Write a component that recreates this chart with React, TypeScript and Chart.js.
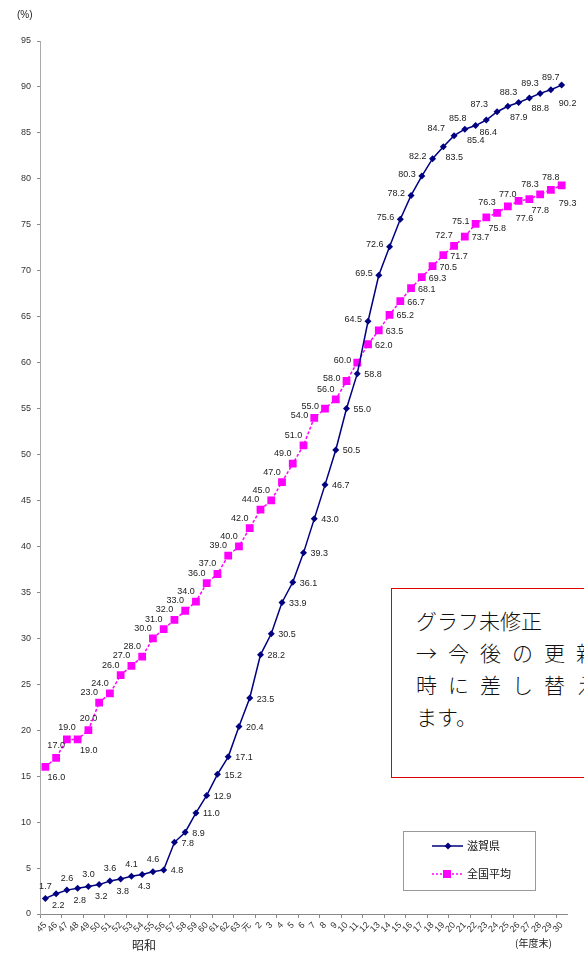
import React, { useEffect, useRef } from 'react';
import { Chart, registerables } from 'chart.js';

Chart.register(...registerables);

const categories = [
  '45', '46', '47', '48', '49', '50', '51', '52', '53', '54', '55', '56', '57', '58', '59', '60', '61', '62', '63',
  '元', '2', '3', '4', '5', '6', '7', '8', '9', '10', '11', '12', '13', '14', '15', '16', '17', '18', '19', '20',
  '21', '22', '23', '24', '25', '26', '27', '28', '29', '30',
];

const shigaValues = [
  1.7, 2.2, 2.6, 2.8, 3.0, 3.2, 3.6, 3.8, 4.1, 4.3, 4.6, 4.8, 7.8, 8.9, 11.0, 12.9, 15.2, 17.1, 20.4,
  23.5, 28.2, 30.5, 33.9, 36.1, 39.3, 43.0, 46.7, 50.5, 55.0, 58.8, 64.5, 69.5, 72.6, 75.6, 78.2, 80.3, 82.2, 83.5, 84.7,
  85.4, 85.8, 86.4, 87.3, 87.9, 88.3, 88.8, 89.3, 89.7, 90.2,
];

const nationalValues = [
  16.0, 17.0, 19.0, 19.0, 20.0, 23.0, 24.0, 26.0, 27.0, 28.0, 30.0, 31.0, 32.0, 33.0, 34.0, 36.0, 37.0, 39.0, 40.0,
  42.0, 44.0, 45.0, 47.0, 49.0, 51.0, 54.0, 55.0, 56.0, 58.0, 60.0, 62.0, 63.5, 65.2, 66.7, 68.1, 69.3, 70.5, 71.7, 72.7,
  73.7, 75.1, 75.8, 76.3, 77.0, 77.6, 77.8, 78.3, 78.8, 79.3,
];

const seriesNames = ['滋賀県', '全国平均'];

// label placement codes
const shigaLabelPos = [
  'a', 'b', 'a', 'b', 'a', 'b', 'a', 'b', 'a', 'b', 'a', 'r', 'r', 'r', 'r', 'r', 'r', 'r', 'r',
  'r', 'r', 'r', 'r', 'r', 'r', 'r', 'r', 'r', 'r', 'r', 'l', 'l', 'l', 'l', 'l', 'l', 'l', 'br', 'ul',
  'br', 'ul', 'b', 'ul', 'br', 'al', 'br', 'al', 'a', 'bb',
];

const nationalLabelPos = [
  'br', 'a', 'a', 'br', 'a', 'al', 'al', 'al', 'al', 'al', 'al', 'al', 'al', 'al', 'al', 'al', 'al', 'al', 'al',
  'al', 'al', 'al', 'al', 'al', 'al', 'l', 'l', 'al', 'l', 'l', 'r', 'r', 'r', 'r', 'r', 'r', 'r', 'r', 'al',
  'r', 'l', 'br', 'al', 'a', 'bb', 'br', 'al', 'a', 'bb',
];

const OFFSETS: Record<string, { dx: number; dy: number; align: CanvasTextAlign }> = {
  a: { dx: 0, dy: -12, align: 'center' },
  b: { dx: 2, dy: 12, align: 'center' },
  r: { dx: 7, dy: 1, align: 'left' },
  l: { dx: -6, dy: -2, align: 'right' },
  al: { dx: -10, dy: -10, align: 'center' },
  ul: { dx: -9, dy: -7, align: 'right' },
  br: { dx: 11, dy: 11, align: 'center' },
  bb: { dx: 6, dy: 18, align: 'center' },
};

const NAVY = '#000080';
const MAGENTA = '#FF00FF';
const LABEL_FONT = "9px 'Liberation Sans', 'DejaVu Sans', sans-serif";

const labelPlugin = {
  id: 'valueLabels',
  afterDatasetsDraw(chart: any) {
    const ctx = chart.ctx;
    const posSets = [shigaLabelPos, nationalLabelPos];
    ctx.save();
    ctx.font = LABEL_FONT;
    ctx.fillStyle = '#222';
    ctx.textBaseline = 'middle';
    chart.data.datasets.forEach((ds: any, i: number) => {
      const meta = chart.getDatasetMeta(i);
      meta.data.forEach((pt: any, j: number) => {
        const o = OFFSETS[posSets[i][j]] || OFFSETS.a;
        ctx.textAlign = o.align;
        ctx.fillText(Number(ds.data[j]).toFixed(1), pt.x + o.dx, pt.y + o.dy);
      });
    });
    ctx.restore();
  },
  afterDraw(chart: any) {
    const ctx = chart.ctx;
    ctx.save();
    // legend box
    ctx.fillStyle = '#fff';
    ctx.fillRect(403.5, 831.5, 132, 59);
    ctx.strokeStyle = '#999';
    ctx.lineWidth = 1;
    ctx.strokeRect(403.5, 831.5, 132, 59);
    // series 1
    ctx.strokeStyle = NAVY;
    ctx.lineWidth = 1.5;
    ctx.beginPath();
    ctx.moveTo(432, 846);
    ctx.lineTo(463, 846);
    ctx.stroke();
    ctx.fillStyle = NAVY;
    ctx.beginPath();
    ctx.moveTo(448, 842.5);
    ctx.lineTo(451.5, 846);
    ctx.lineTo(448, 849.5);
    ctx.lineTo(444.5, 846);
    ctx.closePath();
    ctx.fill();
    // series 2
    ctx.strokeStyle = MAGENTA;
    ctx.setLineDash([2, 2]);
    ctx.beginPath();
    ctx.moveTo(432, 874);
    ctx.lineTo(463, 874);
    ctx.stroke();
    ctx.setLineDash([]);
    ctx.fillStyle = MAGENTA;
    ctx.fillRect(443, 870, 8, 8);
    ctx.fillStyle = '#111';
    ctx.font = "11px 'Noto Sans CJK JP', sans-serif";
    ctx.textAlign = 'left';
    ctx.textBaseline = 'middle';
    ctx.fillText(seriesNames[0], 467, 846);
    ctx.fillText(seriesNames[1], 467, 874);
    ctx.restore();
  },
};

export default function App() {
  const canvasRef = useRef<HTMLCanvasElement | null>(null);

  useEffect(() => {
    if (!canvasRef.current) return;
    const chart = new Chart(canvasRef.current, {
      type: 'line',
      data: {
        labels: categories,
        datasets: [
          {
            label: seriesNames[0],
            data: shigaValues,
            borderColor: NAVY,
            backgroundColor: NAVY,
            borderWidth: 1.5,
            pointStyle: 'rectRot',
            pointRadius: 3.5,
            pointBorderWidth: 0,
            pointBackgroundColor: NAVY,
            tension: 0,
          },
          {
            label: seriesNames[1],
            data: nationalValues,
            borderColor: MAGENTA,
            backgroundColor: MAGENTA,
            borderWidth: 1.5,
            borderDash: [3, 2],
            pointStyle: 'rect',
            pointRadius: 5.5,
            pointBorderWidth: 0,
            pointBackgroundColor: MAGENTA,
            tension: 0,
          },
        ],
      },
      options: {
        responsive: false,
        animation: false,
        devicePixelRatio: 1,
        layout: { padding: { top: 41, right: 17, left: 0, bottom: 0 } },
        plugins: { legend: { display: false }, tooltip: { enabled: false }, title: { display: false } },
        scales: {
          x: {
            type: 'category',
            offset: true,
            afterFit: (s: any) => {
              s.height = 39;
            },
            border: { display: true, color: '#888', width: 1 },
            grid: {
              offset: true,
              drawOnChartArea: false,
              drawTicks: true,
              tickLength: 4,
              color: (c: any) => (c.index % 2 === 0 ? '#888' : 'rgba(0,0,0,0)'),
            },
            ticks: {
              autoSkip: false,
              minRotation: 45,
              maxRotation: 45,
              padding: 2,
              color: '#333',
              font: { size: 9, family: "'Liberation Sans', 'Noto Sans CJK JP', sans-serif" },
            },
          },
          y: {
            min: 0,
            max: 95,
            afterFit: (s: any) => {
              s.width = 40;
            },
            border: { display: true, color: '#aaa', width: 1 },
            grid: { drawOnChartArea: false, drawTicks: true, tickLength: 3, color: '#888' },
            ticks: {
              stepSize: 5,
              padding: 6,
              color: '#333',
              font: { size: 9, family: "'Liberation Sans', sans-serif" },
            },
          },
        },
      },
      plugins: [labelPlugin],
    });
    return () => chart.destroy();
  }, []);

  const noteLine: React.CSSProperties = { height: 32, lineHeight: '32px', whiteSpace: 'nowrap' };

  return (
    <div
      style={{
        position: 'fixed',
        left: 0,
        top: 0,
        width: 584,
        height: 953,
        overflow: 'hidden',
        background: '#fff',
      }}
    >
      <canvas ref={canvasRef} width={584} height={953} style={{ position: 'absolute', left: 0, top: 0 }} />
      <div
        style={{
          position: 'absolute',
          left: 17,
          top: 9,
          font: "10px 'Liberation Sans', sans-serif",
          color: '#222',
        }}
      >
        (%)
      </div>
      <div
        style={{
          position: 'absolute',
          left: 132,
          top: 938,
          font: "12px 'Noto Sans CJK JP', sans-serif",
          lineHeight: '14px',
          color: '#222',
        }}
      >
        昭和
      </div>
      <div
        style={{
          position: 'absolute',
          left: 515,
          top: 936,
          font: "10px 'Noto Sans CJK JP', sans-serif",
          lineHeight: '14px',
          color: '#222',
        }}
      >
        (年度末)
      </div>
      <div
        style={{
          position: 'absolute',
          left: 391,
          top: 588,
          width: 240,
          height: 190,
          boxSizing: 'border-box',
          border: '1px solid #e00000',
          background: '#fff',
          paddingTop: 15,
          paddingLeft: 24,
          font: "21px 'Noto Sans CJK JP', sans-serif",
          fontWeight: 300,
          color: '#111',
        }}
      >
        <div style={{ ...noteLine, letterSpacing: 0 }}>グラフ未修正</div>
        <div style={{ ...noteLine, letterSpacing: 11 }}>→今後の更新</div>
        <div style={{ ...noteLine, letterSpacing: 11 }}>時に差し替え</div>
        <div style={{ ...noteLine, letterSpacing: 0 }}>ます。</div>
      </div>
    </div>
  );
}
